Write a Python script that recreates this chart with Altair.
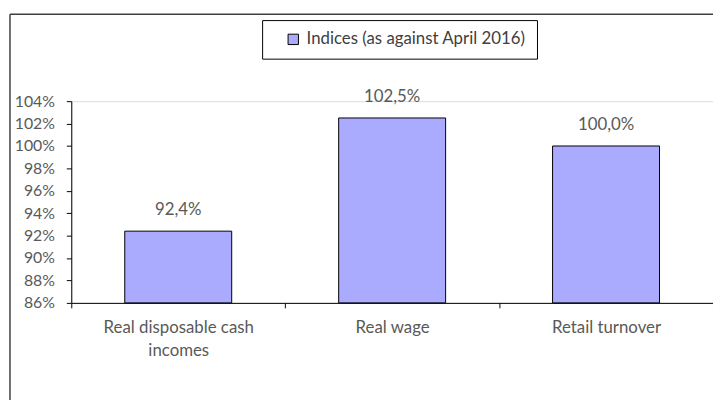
import altair as alt
import pandas as pd

categories = ["Real disposable cash incomes", "Real wage", "Retail turnover"]
values = [92.4, 102.5, 100.0]
series_name = "Indices (as against April 2016)"
y_ticks = [86, 88, 90, 92, 94, 96, 98, 100, 102, 104]

df = pd.DataFrame({
    "category": categories,
    "value": values,
    "series": [series_name] * len(categories),
    "label": [f"{v:.1f}%".replace(".", ",") for v in values],
})

FONT = "Lato"
GREY = "#595959"
FS = 17

x_enc = alt.X(
    "category:N",
    sort=categories,
    title=None,
    scale=alt.Scale(paddingInner=0, paddingOuter=0),
    axis=alt.Axis(
        labelAngle=0,
        labelExpr="datum.value == 'Real disposable cash incomes' ? ['Real disposable cash', 'incomes'] : datum.value",
        labelFont=FONT, labelFontSize=FS, labelColor=GREY,
        labelPadding=12, labelLineHeight=23,
        tickBand="extent", tickSize=5, tickColor="#000000",
        domainColor="#000000", grid=False, labelLimit=300,
    ),
)
y_enc = alt.Y(
    "value:Q",
    scale=alt.Scale(domain=[86, 104], nice=False, zero=False),
    title=None,
    axis=alt.Axis(
        values=y_ticks, labelExpr="datum.value + '%'",
        labelFont=FONT, labelFontSize=16, labelColor=GREY,
        tickSize=5, tickColor="#000000", domainColor="#000000",
        labelPadding=12, grid=False, labelOverlap=False,
        labelBound=False, labelFlush=False,
    ),
)

base = alt.Chart(df).encode(x=x_enc, y=y_enc)

bars = base.mark_bar(
    stroke="#000000", strokeWidth=1, width=alt.RelativeBandSize(0.5)
).encode(
    y2=alt.datum(86),
    color=alt.Color(
        "series:N",
        scale=alt.Scale(range=["#AAAAFF"]),
        legend=alt.Legend(
            title=None, orient="none", legendX=193, legendY=-82,
            symbolType="square", symbolSize=110, symbolStrokeColor="#000000",
            symbolStrokeWidth=1, labelFont=FONT, labelFontSize=FS,
            labelColor="#404040", padding=11, strokeColor="#000000",
            fillColor="#FFFFFF", symbolOffset=12, labelOffset=5, labelLimit=400,
        ),
    ),
)

labels = base.mark_text(
    baseline="alphabetic", dy=-16, font=FONT, fontSize=FS, color=GREY
).encode(text="label:N")

one = pd.DataFrame({"f": [0]})
frame_top = alt.Chart(one).mark_rule(color="#404040", strokeWidth=1.5).encode(
    x=alt.value(-62), x2=alt.value(2000), y=alt.value(-88)
)
frame_left = alt.Chart(one).mark_rule(color="#404040", strokeWidth=1.5).encode(
    x=alt.value(-62), y=alt.value(-88), y2=alt.value(2000)
)

chart = alt.layer(frame_top, frame_left, bars, labels).properties(
    width=649, height=204,
    autosize=alt.AutoSizeParams(type="none"),
    padding={"left": 64, "top": 92, "right": 0, "bottom": 96},
).configure_view(stroke="transparent", strokeWidth=0).configure(background="#FFFFFF")

chart.save("out.html", embed_options={"renderer": "svg", "actions": False})
